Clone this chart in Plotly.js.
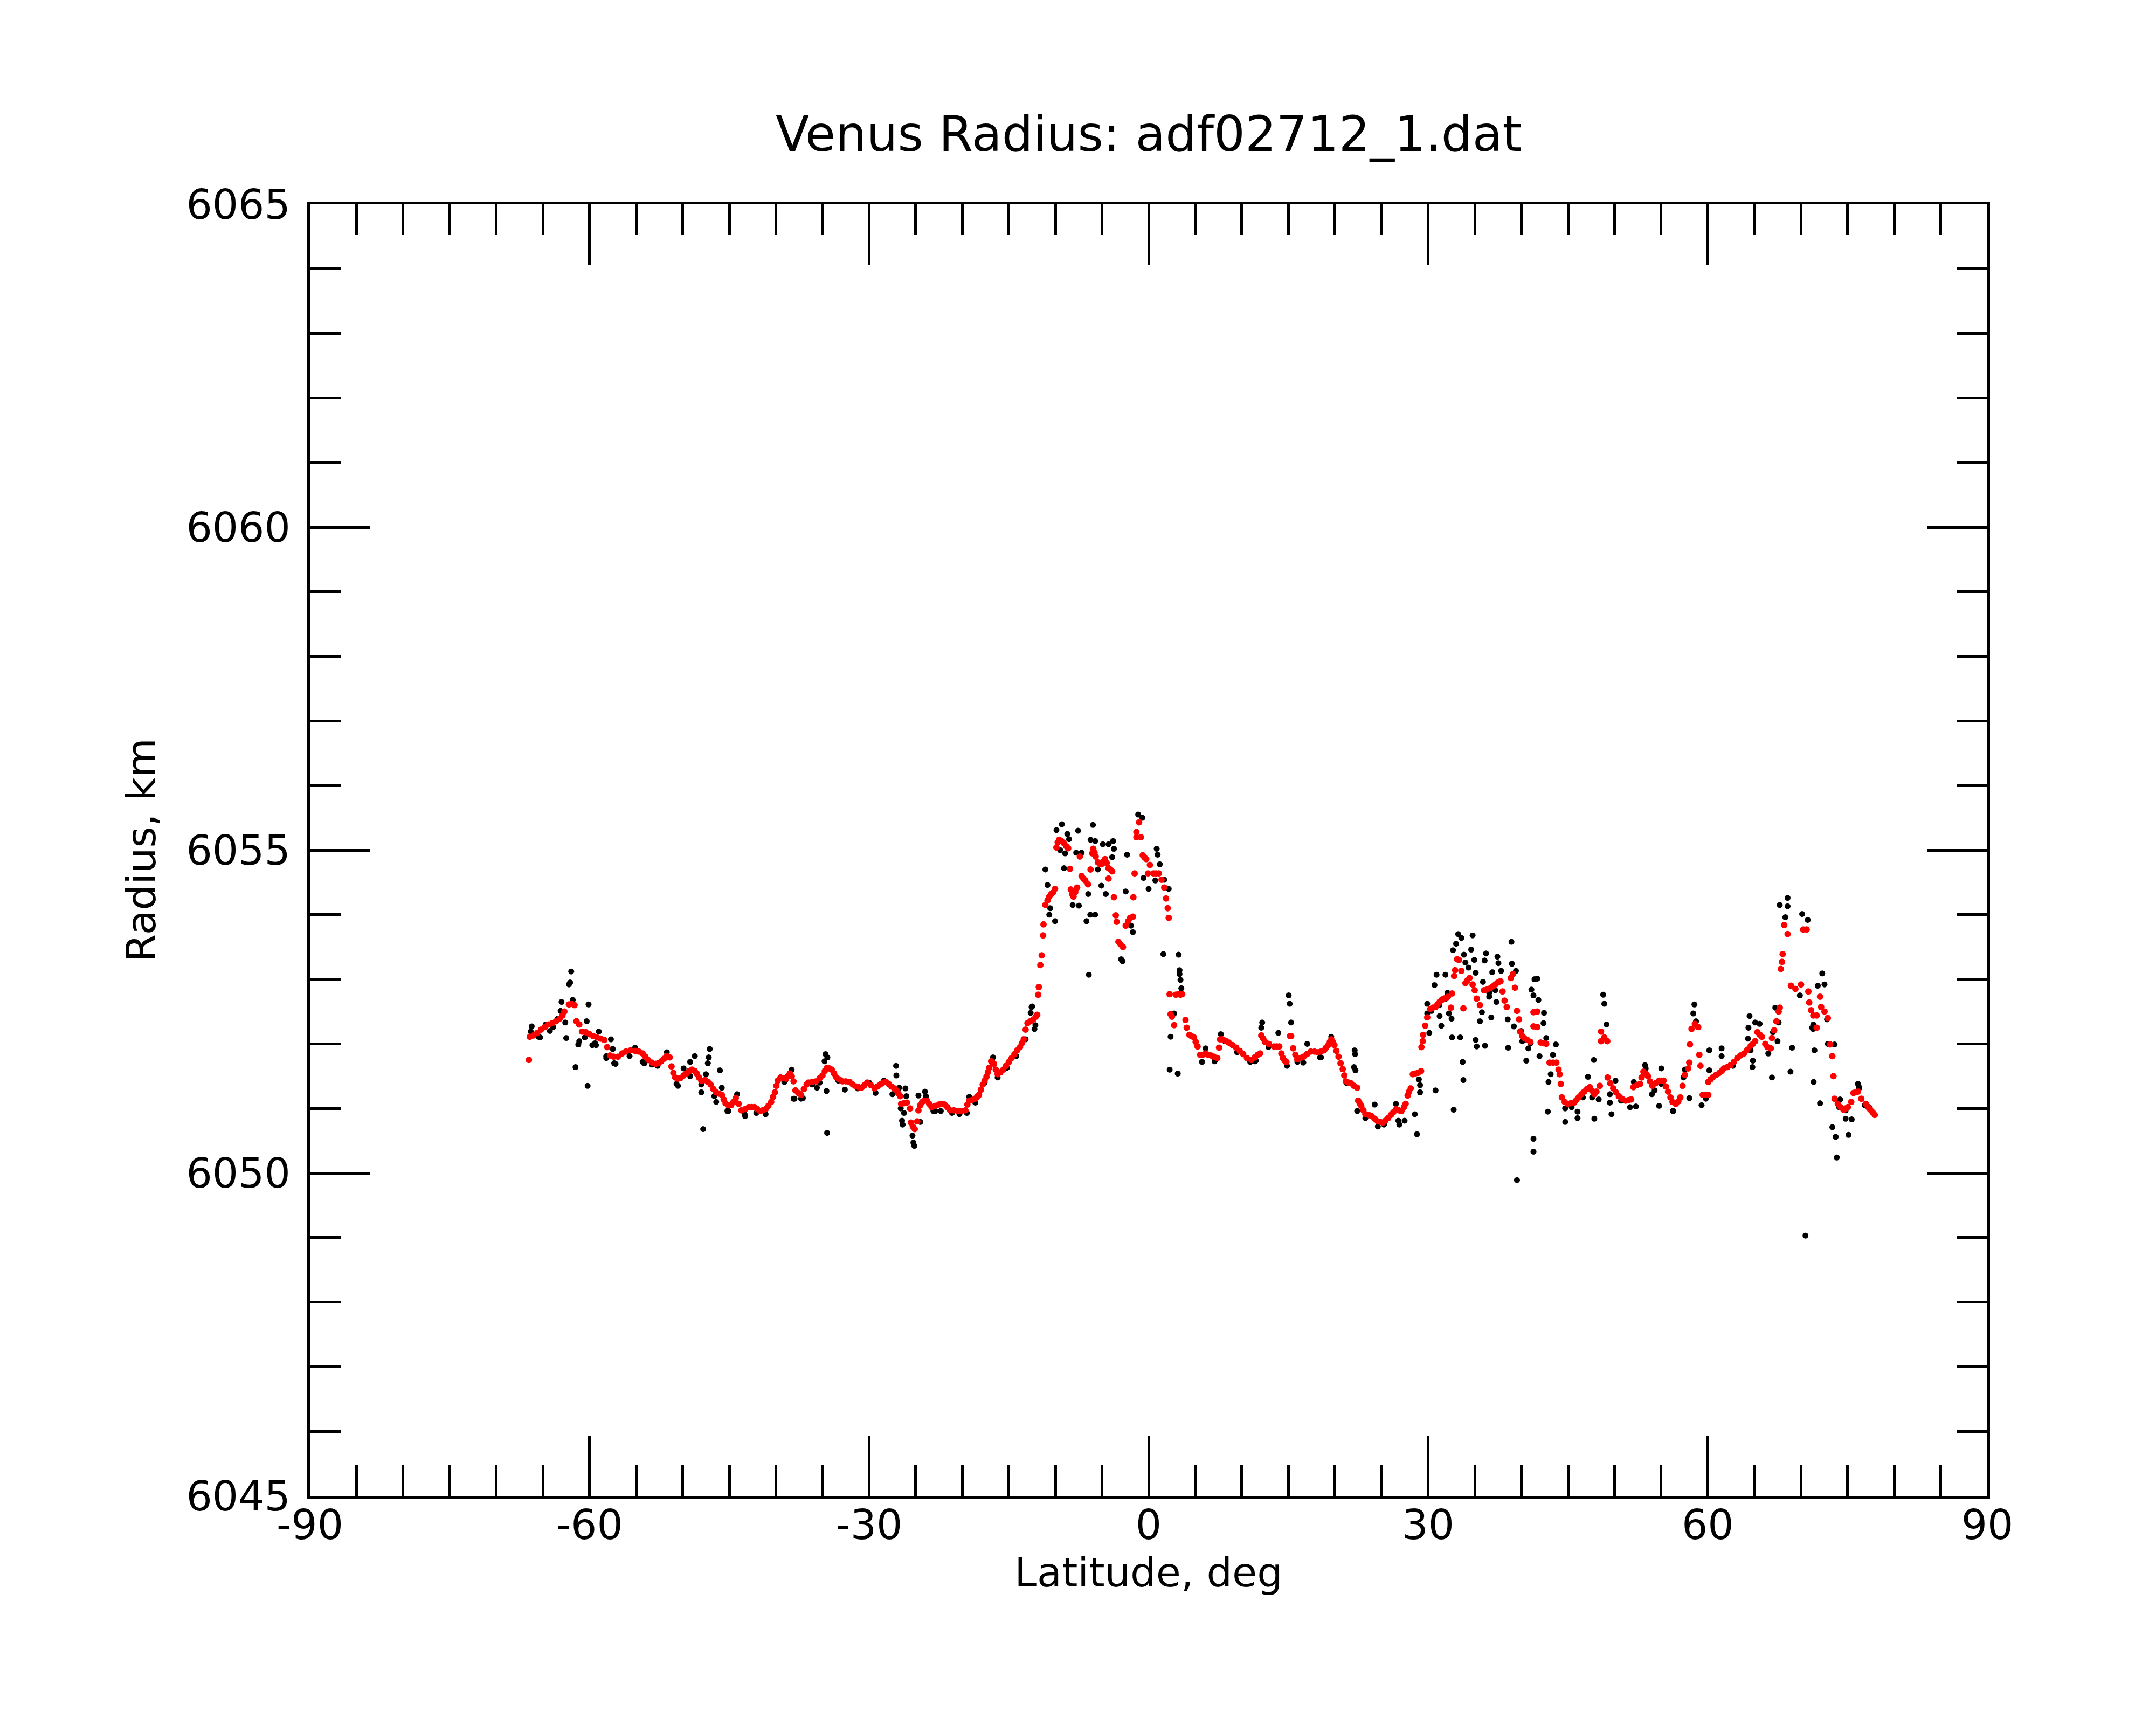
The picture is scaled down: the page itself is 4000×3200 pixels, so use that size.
<!DOCTYPE html>
<html>
<head>
<meta charset="utf-8">
<script src="https://cdn.plot.ly/plotly-3.0.1.min.js"></script>
<style>
  html, body { margin: 0; padding: 0; background: white; }
  #chart { width: 4000px; height: 3200px; }
</style>
</head>
<body>
<div id="chart"></div>
<script>
// Venus radius profile - raw points (black) and smoothed points (red)

// Smoothed radius, [latitude deg, radius km]
const redPoints = [
    [-66.5, 6051.75], [-66.4, 6052.11], [-66.0, 6052.13], [-65.6, 6052.17], [-65.2, 6052.22],
    [-64.8, 6052.26], [-64.4, 6052.30], [-64.0, 6052.32], [-63.6, 6052.35], [-63.2, 6052.39],
    [-62.9, 6052.44], [-62.7, 6052.50], [-62.2, 6052.61], [-61.9, 6052.62], [-61.6, 6052.60],
    [-61.4, 6052.35], [-61.1, 6052.30], [-60.8, 6052.19], [-60.4, 6052.18], [-60.0, 6052.15],
    [-59.6, 6052.12], [-59.2, 6052.10], [-58.8, 6052.08], [-58.4, 6052.06], [-58.1, 6051.95],
    [-57.8, 6051.82], [-57.4, 6051.80], [-56.95, 6051.80], [-56.5, 6051.85], [-56.1, 6051.88],
    [-55.6, 6051.90], [-55.1, 6051.89], [-54.7, 6051.88], [-54.3, 6051.85], [-54.0, 6051.80],
    [-53.7, 6051.75], [-53.3, 6051.71], [-52.9, 6051.69], [-52.6, 6051.70], [-52.3, 6051.73],
    [-52.0, 6051.77], [-51.7, 6051.81], [-51.4, 6051.79], [-51.2, 6051.65], [-51.0, 6051.55],
    [-50.8, 6051.48], [-50.5, 6051.46], [-50.25, 6051.47], [-49.9, 6051.51], [-49.6, 6051.54],
    [-49.3, 6051.58], [-49.0, 6051.60], [-48.7, 6051.58], [-48.5, 6051.54], [-48.25, 6051.48],
    [-48.0, 6051.43], [-47.6, 6051.44], [-47.3, 6051.41], [-47.0, 6051.37], [-46.7, 6051.30],
    [-46.4, 6051.25], [-46.1, 6051.23], [-45.8, 6051.21], [-45.6, 6051.14], [-45.4, 6051.08],
    [-45.1, 6051.05], [-44.8, 6051.05], [-44.55, 6051.10], [-44.3, 6051.16], [-44.0, 6051.07],
    [-43.7, 6050.97], [-43.3, 6050.99], [-42.9, 6051.02], [-42.6, 6051.02], [-42.3, 6051.02],
    [-42.0, 6050.99], [-41.7, 6050.96], [-41.4, 6050.97], [-41.1, 6050.99], [-40.8, 6051.04],
    [-40.5, 6051.10], [-40.3, 6051.18], [-40.1, 6051.25], [-39.95, 6051.35], [-39.8, 6051.43],
    [-39.5, 6051.48], [-39.2, 6051.47], [-38.9, 6051.46], [-38.7, 6051.50], [-38.5, 6051.54],
    [-38.3, 6051.50], [-38.1, 6051.42], [-37.9, 6051.28], [-37.6, 6051.24], [-37.3, 6051.21],
    [-37.0, 6051.30], [-36.7, 6051.37], [-36.5, 6051.40], [-36.1, 6051.41], [-35.7, 6051.42],
    [-35.3, 6051.47], [-35.0, 6051.51], [-34.75, 6051.58], [-34.5, 6051.63], [-34.25, 6051.62],
    [-34.0, 6051.60], [-33.75, 6051.54], [-33.5, 6051.48], [-33.2, 6051.45], [-32.85, 6051.42],
    [-32.5, 6051.42], [-32.1, 6051.41], [-31.75, 6051.37], [-31.4, 6051.34], [-31.1, 6051.33],
    [-30.8, 6051.32], [-30.5, 6051.36], [-30.2, 6051.40], [-29.8, 6051.36], [-29.4, 6051.31],
    [-29.1, 6051.34], [-28.8, 6051.37], [-28.5, 6051.40], [-28.2, 6051.41], [-27.9, 6051.38],
    [-27.6, 6051.34], [-27.3, 6051.31], [-27.06, 6051.28], [-26.85, 6051.23], [-26.66, 6051.19],
    [-26.56, 6051.07], [-26.25, 6051.08], [-25.95, 6051.09], [-25.6, 6051.00], [-25.5, 6050.78],
    [-25.3, 6050.72], [-25.1, 6050.68], [-24.83, 6050.80], [-24.7, 6050.97], [-24.5, 6051.05],
    [-24.3, 6051.10], [-24.05, 6051.12], [-23.8, 6051.12], [-23.55, 6051.07], [-23.3, 6051.02],
    [-22.9, 6051.04], [-22.5, 6051.06], [-22.2, 6051.07], [-21.9, 6051.06], [-21.6, 6051.02],
    [-21.3, 6050.97], [-20.9, 6050.97], [-20.5, 6050.96], [-20.1, 6050.96], [-19.66, 6050.97],
    [-19.45, 6051.06], [-19.25, 6051.12], [-18.95, 6051.13], [-18.64, 6051.15], [-18.4, 6051.18],
    [-18.2, 6051.21], [-18.0, 6051.29], [-17.8, 6051.37], [-17.6, 6051.43], [-17.4, 6051.49],
    [-17.25, 6051.56], [-17.1, 6051.63], [-16.9, 6051.73], [-16.75, 6051.71], [-16.6, 6051.69],
    [-16.4, 6051.60], [-16.2, 6051.53], [-15.9, 6051.56], [-15.6, 6051.60], [-15.3, 6051.66],
    [-15.0, 6051.72], [-14.7, 6051.78], [-14.4, 6051.84], [-14.1, 6051.90], [-13.8, 6051.95],
    [-13.6, 6052.01], [-13.4, 6052.07], [-13.2, 6052.22], [-13.0, 6052.32], [-12.7, 6052.35],
    [-12.36, 6052.38], [-12.1, 6052.42], [-11.95, 6052.45], [-11.85, 6052.76], [-11.78, 6052.88],
    [-11.62, 6053.22], [-11.47, 6053.37], [-11.33, 6053.68], [-11.28, 6053.85], [-11.08, 6054.15],
    [-10.85, 6054.22], [-10.66, 6054.28], [-10.45, 6054.32], [-10.27, 6054.34], [-10.04, 6054.40],
    [-9.89, 6055.04], [-9.75, 6055.12], [-9.6, 6055.16], [-9.35, 6055.14], [-9.12, 6055.11],
    [-8.85, 6055.06], [-8.63, 6055.03], [-8.44, 6054.71], [-8.35, 6054.39], [-8.2, 6054.32],
    [-8.06, 6054.28], [-7.87, 6054.35], [-7.67, 6054.42], [-7.38, 6054.90], [-7.19, 6054.60],
    [-7.0, 6054.56], [-6.8, 6054.53], [-6.51, 6054.47], [-6.23, 6054.70], [-6.05, 6054.95],
    [-5.94, 6055.02], [-5.8, 6054.96], [-5.68, 6054.90], [-5.45, 6054.81], [-5.25, 6054.79],
    [-5.07, 6054.78], [-4.88, 6054.82], [-4.68, 6054.86], [-4.5, 6054.80], [-4.3, 6054.72],
    [-4.3, 6054.56], [-4.1, 6054.70], [-3.91, 6054.67], [-3.72, 6054.27], [-3.52, 6053.99],
    [-3.43, 6053.89], [-3.24, 6053.58], [-3.0, 6053.54], [-2.75, 6053.50], [-2.46, 6053.83],
    [-2.2, 6053.90], [-1.98, 6053.95], [-1.69, 6053.97], [-1.64, 6054.27], [-1.5, 6054.64],
    [-1.31, 6055.20], [-1.31, 6055.28], [-1.02, 6055.43], [-0.83, 6055.20], [-0.63, 6054.92],
    [-0.45, 6054.89], [-0.25, 6054.86], [-0.06, 6054.64], [0.14, 6054.77], [0.52, 6054.64],
    [0.8, 6054.64], [1.1, 6054.64], [1.39, 6054.54], [1.68, 6054.42], [1.87, 6054.25],
    [2.05, 6054.10], [2.16, 6053.95], [2.26, 6052.77], [2.36, 6052.46], [2.5, 6052.42],
    [2.74, 6052.29], [2.93, 6052.76], [3.2, 6052.77], [3.42, 6052.76], [3.6, 6052.77],
    [3.96, 6052.37], [4.09, 6052.25], [4.38, 6052.14], [4.6, 6052.12], [4.86, 6052.10],
    [5.05, 6052.03], [5.25, 6051.96], [5.54, 6051.83], [5.8, 6051.83], [6.11, 6051.85],
    [6.4, 6051.83], [6.69, 6051.82], [7.0, 6051.80], [7.37, 6051.78], [7.56, 6051.94],
    [7.66, 6052.07], [7.9, 6052.07], [8.24, 6052.05], [8.6, 6052.02], [9.01, 6051.98],
    [9.4, 6051.94], [9.78, 6051.89], [10.15, 6051.84], [10.55, 6051.78], [11.03, 6051.75],
    [11.4, 6051.79], [11.71, 6051.83], [11.97, 6051.85], [12.09, 6052.13], [12.3, 6052.08],
    [12.48, 6052.03], [12.9, 6052.00], [13.44, 6051.96], [13.75, 6051.96], [14.02, 6051.96],
    [14.25, 6051.85], [14.41, 6051.78], [14.6, 6051.74], [14.79, 6051.72], [15.18, 6052.12],
    [15.3, 6052.12], [15.51, 6051.93], [15.75, 6051.83], [15.96, 6051.76], [16.3, 6051.78],
    [16.62, 6051.80], [17.0, 6051.84], [17.4, 6051.88], [17.8, 6051.88], [18.17, 6051.87],
    [18.5, 6051.88], [18.83, 6051.90], [19.05, 6051.94], [19.28, 6051.98], [19.45, 6052.03],
    [19.61, 6052.07], [19.8, 6052.02], [19.94, 6051.98], [20.15, 6051.89], [20.38, 6051.80],
    [20.6, 6051.70], [20.83, 6051.61], [21.0, 6051.51], [21.16, 6051.42], [21.45, 6051.40],
    [21.71, 6051.39], [22.05, 6051.35], [22.38, 6051.32], [22.49, 6051.12], [22.65, 6051.08],
    [22.82, 6051.04], [23.05, 6050.97], [23.26, 6050.91], [23.6, 6050.90], [23.93, 6050.88],
    [24.25, 6050.84], [24.59, 6050.80], [24.85, 6050.79], [25.14, 6050.78], [25.4, 6050.81],
    [25.7, 6050.85], [26.0, 6050.90], [26.25, 6050.94], [26.58, 6050.99], [26.85, 6050.97],
    [27.13, 6050.96], [27.4, 6051.02], [27.58, 6051.07], [27.8, 6051.20], [27.95, 6051.26],
    [28.13, 6051.31], [28.35, 6051.53], [28.6, 6051.54], [28.9, 6051.55], [29.24, 6051.58],
    [29.28, 6051.95], [29.42, 6052.04], [29.46, 6052.14], [29.68, 6052.28], [29.9, 6052.41],
    [30.23, 6052.54], [30.5, 6052.56], [30.79, 6052.57], [31.0, 6052.61], [31.23, 6052.65],
    [31.45, 6052.68], [31.67, 6052.70], [31.9, 6052.71], [32.12, 6052.73], [32.45, 6052.56],
    [32.56, 6052.78], [32.78, 6053.05], [32.89, 6053.14], [33.11, 6053.31], [33.3, 6053.30],
    [33.56, 6053.13], [33.78, 6052.55], [34.0, 6052.94], [34.2, 6052.98], [34.44, 6053.02],
    [34.77, 6052.92], [34.99, 6052.83], [35.21, 6052.70], [35.55, 6052.60], [35.99, 6052.83],
    [36.3, 6052.84], [36.66, 6052.86], [36.95, 6052.89], [37.21, 6052.92], [37.5, 6052.95],
    [37.76, 6052.97], [37.98, 6052.81], [38.2, 6052.67], [38.43, 6052.57], [38.87, 6053.02],
    [39.09, 6053.08], [39.31, 6052.87], [39.53, 6052.51], [39.75, 6052.38], [39.86, 6052.19],
    [40.1, 6052.12], [40.31, 6052.09], [40.65, 6052.06], [40.97, 6052.03], [41.3, 6052.27],
    [41.3, 6052.49], [41.71, 6052.50], [41.71, 6052.26], [42.07, 6052.02], [42.4, 6052.01],
    [42.67, 6052.00], [43.03, 6051.71], [43.4, 6051.71], [43.75, 6051.71], [43.99, 6051.60],
    [44.11, 6051.53], [44.23, 6051.38], [44.35, 6051.17], [44.65, 6051.10], [44.95, 6051.07],
    [45.3, 6051.08], [45.67, 6051.09], [45.9, 6051.13], [46.15, 6051.17], [46.45, 6051.22],
    [46.75, 6051.26], [47.05, 6051.30], [47.35, 6051.33], [47.6, 6051.27], [47.83, 6051.22],
    [48.06, 6051.26], [48.42, 6051.35], [48.55, 6052.04], [48.55, 6052.19], [48.9, 6052.10],
    [49.22, 6052.04], [49.26, 6051.48], [49.55, 6051.39], [49.86, 6051.31], [50.15, 6051.25],
    [50.46, 6051.19], [50.8, 6051.15], [51.18, 6051.12], [51.5, 6051.13], [51.78, 6051.14],
    [52.02, 6051.33], [52.4, 6051.36], [52.74, 6051.38], [52.9, 6051.48], [53.1, 6051.57],
    [53.35, 6051.54], [53.58, 6051.50], [53.8, 6051.42], [54.06, 6051.35], [54.4, 6051.39],
    [54.78, 6051.43], [55.02, 6051.43], [55.26, 6051.43], [55.5, 6051.34], [55.74, 6051.26],
    [56.0, 6051.17], [56.22, 6051.10], [56.58, 6051.07], [56.85, 6051.11], [57.06, 6051.17],
    [57.3, 6051.35], [57.54, 6051.52], [57.9, 6051.62], [58.02, 6051.71], [58.09, 6051.99],
    [58.26, 6052.23], [58.62, 6052.31], [58.98, 6052.26], [59.1, 6051.83], [59.22, 6051.66],
    [59.46, 6051.21], [59.75, 6051.21], [60.06, 6051.21], [60.06, 6051.41], [60.3, 6051.45],
    [60.53, 6051.48], [60.9, 6051.52], [61.25, 6051.55], [61.5, 6051.58], [61.73, 6051.62],
    [62.1, 6051.64], [62.45, 6051.67], [62.8, 6051.72], [63.17, 6051.78], [63.5, 6051.82],
    [63.89, 6051.85], [64.25, 6051.91], [64.61, 6051.97], [64.85, 6052.00], [65.09, 6052.04],
    [65.33, 6052.18], [65.6, 6052.14], [65.81, 6052.11], [66.17, 6052.00], [66.41, 6051.95],
    [66.77, 6051.93], [66.89, 6052.09], [67.13, 6052.21], [67.37, 6052.35], [67.61, 6052.50],
    [67.73, 6052.56], [67.85, 6053.16], [67.97, 6053.27], [68.04, 6053.39], [68.21, 6053.84],
    [68.57, 6053.70], [68.93, 6052.90], [69.41, 6052.85], [70.01, 6052.92], [70.25, 6053.77],
    [70.61, 6053.77], [70.8, 6052.81], [70.89, 6052.64], [71.09, 6052.52], [71.33, 6052.44],
    [71.69, 6052.44], [71.69, 6052.25], [72.05, 6052.73], [72.17, 6052.57], [72.53, 6052.50],
    [72.89, 6052.40], [73.13, 6051.99], [73.37, 6051.81], [73.49, 6051.50], [73.61, 6051.15],
    [73.96, 6051.07], [74.25, 6051.02], [74.56, 6050.98], [74.8, 6051.00], [75.04, 6051.02],
    [75.4, 6051.10], [75.64, 6051.24], [75.9, 6051.25], [76.12, 6051.26], [76.48, 6051.15],
    [76.96, 6051.07], [77.2, 6051.02], [77.44, 6050.98], [77.7, 6050.94], [77.92, 6050.90]
];

// Raw radius samples, [latitude deg, radius km]
const blackPoints = [
    // southern plains
    [-66.3, 6052.19], [-66.2, 6052.27], [-65.5, 6052.11], [-65.3, 6052.10], [-64.7, 6052.30],
    [-64.25, 6052.20], [-63.9, 6052.26], [-63.4, 6052.39], [-63.1, 6052.51], [-63.0, 6052.65],
    [-62.6, 6052.33], [-62.5, 6052.09], [-62.2, 6052.92], [-62.08, 6052.95], [-61.96, 6053.12],
    [-61.8, 6052.68], [-61.5, 6051.64], [-61.2, 6051.99], [-61.1, 6052.04], [-60.5, 6052.10],
    [-60.3, 6052.35], [-60.2, 6051.35], [-60.1, 6052.61], [-59.7, 6051.98], [-59.4, 6052.01],
    [-59.3, 6051.98], [-59.0, 6052.19], [-58.2, 6051.78], [-58.2, 6051.81], [-57.7, 6052.07],
    [-57.5, 6051.92], [-57.35, 6051.70], [-57.2, 6051.69], [-55.7, 6051.81], [-55.1, 6051.94],
    [-54.3, 6051.72], [-54.1, 6051.70], [-53.3, 6051.68], [-52.7, 6051.66], [-51.7, 6051.87],
    [-50.66, 6051.38], [-50.5, 6051.35], [-49.9, 6051.62], [-49.2, 6051.72], [-49.2, 6051.50],
    [-48.7, 6051.81], [-48.0, 6051.25], [-48.0, 6051.37], [-47.8, 6050.68], [-47.5, 6051.53],
    [-47.3, 6051.70], [-47.2, 6051.79], [-47.1, 6051.92], [-46.6, 6051.19], [-46.4, 6051.10],
    [-46.0, 6051.59], [-45.8, 6051.32], [-45.2, 6050.96], [-45.1, 6050.96], [-44.16, 6051.22],
    [-43.35, 6050.91], [-43.3, 6050.88], [-42.1, 6050.93], [-41.1, 6050.91], [-39.1, 6051.41],
    [-39.0, 6051.43], [-38.3, 6051.60], [-38.1, 6051.15], [-38.0, 6051.15], [-37.3, 6051.15],
    [-37.1, 6051.16], [-36.1, 6051.37], [-35.6, 6051.32], [-35.3, 6051.40], [-34.78, 6051.73],
    [-34.67, 6051.84], [-34.57, 6051.27], [-34.5, 6050.62], [-34.47, 6051.79], [-33.3, 6051.43],
    [-32.6, 6051.29], [-31.2, 6051.31], [-30.0, 6051.40], [-29.3, 6051.24], [-28.4, 6051.43],
    [-27.5, 6051.22], [-27.1, 6051.66], [-27.07, 6051.51], [-26.76, 6051.32], [-26.6, 6051.00],
    [-26.46, 6050.81], [-26.4, 6050.75], [-26.25, 6050.93], [-26.1, 6051.31], [-26.0, 6051.19],
    [-25.34, 6050.58], [-25.24, 6050.47], [-25.14, 6050.42], [-24.7, 6051.20], [-24.5, 6050.79],
    [-24.0, 6051.26], [-23.9, 6051.19], [-23.1, 6050.96], [-22.9, 6050.96], [-22.3, 6050.96],
    [-21.1, 6050.93], [-20.3, 6050.91], [-19.5, 6050.93], [-19.25, 6051.18], [-18.6, 6051.09],
    [-17.6, 6051.40], [-16.7, 6051.79], [-16.2, 6051.48], [-15.2, 6051.63], [-14.2, 6051.81],
    [-13.2, 6052.07], [-12.66, 6052.48], [-12.56, 6052.57], [-12.49, 6052.58], [-12.25, 6052.23],
    [-12.15, 6052.29],
    // equatorial highland
    [-11.08, 6054.70], [-10.85, 6054.46], [-10.66, 6054.00], [-10.56, 6054.10], [-10.04, 6053.90],
    [-9.89, 6055.31], [-9.5, 6055.00], [-9.31, 6055.40], [-9.08, 6054.72], [-8.96, 6054.95],
    [-8.73, 6055.25], [-8.54, 6055.17], [-8.15, 6054.15], [-7.77, 6054.96], [-7.57, 6055.30],
    [-7.48, 6054.14], [-7.19, 6054.96], [-6.67, 6053.90], [-6.48, 6054.32], [-6.42, 6053.07],
    [-6.26, 6054.00], [-6.23, 6055.16], [-5.97, 6055.39], [-5.74, 6055.14], [-5.74, 6054.00],
    [-5.45, 6054.70], [-5.07, 6054.45], [-4.91, 6055.09], [-4.59, 6054.32], [-4.3, 6055.09],
    [-3.91, 6054.89], [-3.81, 6055.14], [-3.72, 6055.02], [-2.95, 6053.31], [-2.79, 6053.28],
    [-2.46, 6054.36], [-2.31, 6054.93], [-1.89, 6053.83], [-1.69, 6053.73], [-1.12, 6055.55],
    [-0.67, 6055.50], [-0.54, 6054.57], [-0.0, 6054.40], [0.72, 6054.53], [0.87, 6055.02],
    [0.97, 6054.93], [1.2, 6054.78], [1.58, 6053.39], [1.68, 6054.54], [2.16, 6054.40],
    [2.26, 6051.60], [2.36, 6052.11], [2.74, 6052.47], [3.13, 6051.54], [3.22, 6053.38],
    [3.32, 6053.14], [3.32, 6053.08], [3.42, 6052.99], [3.51, 6052.86],
    // plains north of the highland
    [5.73, 6051.72], [6.11, 6051.93], [7.08, 6051.73], [7.1, 6051.74], [7.75, 6052.15],
    [8.2, 6052.04], [9.5, 6051.87], [10.9, 6051.72], [11.42, 6051.73], [11.5, 6051.74],
    [12.09, 6052.25], [12.19, 6052.33], [12.86, 6051.95], [13.92, 6052.17], [14.85, 6051.66],
    [15.03, 6052.75], [15.14, 6052.62], [15.29, 6052.33], [15.96, 6051.72], [16.6, 6051.71],
    [17.02, 6052.00], [18.4, 6051.79], [18.5, 6051.79], [19.6, 6052.11], [21.27, 6051.39],
    [22.04, 6051.64], [22.11, 6051.90], [22.16, 6051.84], [22.2, 6051.59], [22.38, 6050.96],
    [23.26, 6050.85], [24.26, 6051.06], [24.6, 6050.72], [25.26, 6050.75], [26.54, 6051.07],
    [26.8, 6050.81], [26.91, 6050.75], [27.47, 6050.81], [28.57, 6050.91], [28.8, 6050.60],
    [29.0, 6051.45], [29.13, 6051.36], [29.13, 6051.25],
    // northern rise
    [29.9, 6052.62], [29.9, 6052.47], [30.12, 6052.17], [30.35, 6052.51], [30.68, 6052.91],
    [30.79, 6051.28], [30.9, 6053.07], [31.2, 6052.60], [31.23, 6052.43], [31.41, 6052.28],
    [31.85, 6053.07], [31.9, 6052.70], [32.07, 6052.79], [32.23, 6052.47], [32.51, 6052.39],
    [32.56, 6052.10], [32.67, 6053.45], [32.74, 6050.98], [33.0, 6053.55], [33.22, 6053.70],
    [33.44, 6052.10], [33.56, 6053.64], [33.7, 6051.72], [33.78, 6051.44], [33.84, 6053.38],
    [34.0, 6053.26], [34.33, 6053.18], [34.62, 6053.46], [34.77, 6053.68], [34.95, 6053.30],
    [35.1, 6053.10], [35.1, 6052.06], [35.21, 6051.96], [35.55, 6052.35], [35.77, 6052.49],
    [35.88, 6052.96], [36.06, 6053.29], [36.1, 6051.97], [36.21, 6053.40], [36.55, 6052.73],
    [36.55, 6052.79], [36.77, 6052.41], [36.88, 6053.11], [37.2, 6052.83], [37.32, 6052.65],
    [37.43, 6053.35], [37.54, 6053.25], [37.83, 6053.13], [38.54, 6052.38], [38.58, 6051.94],
    [38.94, 6053.58], [38.98, 6053.24], [39.2, 6052.27], [39.42, 6053.13], [39.53, 6049.89],
    [39.97, 6052.20], [40.1, 6052.04], [40.53, 6051.74], [40.75, 6051.93], [41.0, 6052.01],
    [41.08, 6052.84], [41.3, 6052.75], [41.3, 6050.53], [41.3, 6050.33], [41.41, 6053.00],
    [41.71, 6053.01], [41.83, 6052.68], [41.95, 6051.81], [42.38, 6052.32], [42.43, 6052.48],
    [42.67, 6052.09], [42.84, 6050.95], [42.91, 6051.41], [43.15, 6051.53], [43.39, 6051.83],
    [43.7, 6051.99],
    // northern plains
    [44.7, 6051.00], [44.71, 6050.79], [45.4, 6051.02], [46.03, 6050.95], [46.03, 6050.85],
    [46.6, 6051.17], [47.15, 6051.49], [47.6, 6051.17], [47.78, 6051.75], [47.83, 6050.84],
    [48.3, 6051.14], [48.78, 6052.76], [48.9, 6052.62], [49.14, 6052.30], [49.5, 6051.09],
    [49.5, 6051.22], [49.67, 6050.91], [50.1, 6051.43], [50.7, 6051.12], [51.66, 6051.02],
    [52.07, 6051.41], [52.3, 6051.03], [53.27, 6051.67], [53.34, 6051.62], [54.01, 6051.22],
    [54.3, 6051.28], [54.78, 6051.04], [55.0, 6051.38], [55.02, 6051.62], [56.27, 6050.96],
    [56.3, 6050.96], [57.4, 6051.48], [57.54, 6051.60], [58.02, 6051.16], [58.45, 6052.47],
    [58.57, 6052.61], [58.74, 6052.35], [59.34, 6051.05], [59.8, 6051.15], [60.17, 6051.90],
    [60.17, 6051.59], [60.3, 6051.45], [61.49, 6051.93], [61.49, 6051.81], [62.7, 6051.66],
    [64.32, 6052.08], [64.37, 6052.25], [64.49, 6052.43], [64.6, 6051.90], [64.8, 6051.64],
    [64.85, 6051.74], [65.09, 6052.33], [65.57, 6052.31], [66.5, 6051.85], [66.89, 6051.48],
    [67.0, 6052.18], [67.25, 6052.56], [67.49, 6052.04], [67.61, 6052.33],
    // northern peak and pole side
    [67.73, 6054.15], [68.33, 6053.96], [68.57, 6054.26], [68.57, 6054.13], [68.88, 6051.57],
    [69.05, 6051.94], [69.89, 6052.75], [70.13, 6054.01], [70.49, 6049.03], [70.73, 6053.92],
    [71.21, 6052.25], [71.3, 6052.23], [71.33, 6052.30], [71.37, 6051.41], [71.45, 6051.90],
    [71.81, 6052.90], [72.05, 6051.08], [72.29, 6053.09], [72.53, 6052.92], [72.8, 6052.38],
    [72.89, 6052.00], [73.37, 6050.71], [73.61, 6051.99], [73.73, 6050.56], [73.85, 6050.24],
    [74.1, 6051.02], [74.2, 6051.14], [74.8, 6050.84], [74.8, 6050.97], [75.11, 6050.59],
    [75.45, 6050.83], [76.12, 6051.38], [76.24, 6051.33], [76.24, 6051.31], [76.84, 6051.05],
    [77.3, 6051.02], [77.32, 6051.02]
];

const titleText = 'Venus Radius: adf02712_1.dat';
const xTitleText = 'Latitude, deg';
const yTitleText = 'Radius, km';
const xRange = [-90, 90];
const yRange = [6045, 6065];
const xTickVals = [-90, -60, -30, 0, 30, 60, 90];
const xTickText = ['-90', '-60', '-30', '0', '30', '60', '90'];

const rawTrace = {
    x: blackPoints.map(p => p[0]),
    y: blackPoints.map(p => p[1]),
    type: 'scatter',
    mode: 'markers',
    marker: {color: '#000000', size: 11},
    hoverinfo: 'skip'
};

const smoothTrace = {
    x: redPoints.map(p => p[0]),
    y: redPoints.map(p => p[1]),
    type: 'scatter',
    mode: 'markers',
    marker: {color: '#ff0000', size: 12},
    hoverinfo: 'skip'
};

const axisCommon = {
    showgrid: false,
    zeroline: false,
    showline: true,
    linecolor: '#000000',
    linewidth: 5,
    mirror: 'ticks',
    ticks: 'inside',
    tickcolor: '#000000',
    tickwidth: 5,
    ticklen: 112,
    tickfont: {family: 'DejaVu Sans', size: 76, color: '#000000'}
};

const layout = {
    width: 4000,
    height: 3200,
    margin: {l: 575, r: 313, t: 379, b: 425},
    paper_bgcolor: 'white',
    plot_bgcolor: 'white',
    showlegend: false,
    font: {family: 'DejaVu Sans', color: '#000000'},
    title: {
        text: titleText,
        font: {family: 'DejaVu Sans', size: 91, color: '#000000'},
        x: 0.5,
        xref: 'paper',
        xanchor: 'center',
        y: 1 - 248 / 3200,
        yref: 'container',
        yanchor: 'middle'
    },
    xaxis: Object.assign({}, axisCommon, {
        range: xRange,
        tickmode: 'array',
        tickvals: xTickVals,
        ticktext: xTickText,
        ticklabelstandoff: -16,
        minor: {tickmode: 'linear', tick0: -90, dtick: 5, ticks: 'inside', ticklen: 57, tickwidth: 5, tickcolor: '#000000'},
        title: {text: xTitleText, font: {family: 'DejaVu Sans', size: 75, color: '#000000'}, standoff: 12}
    }),
    yaxis: Object.assign({}, axisCommon, {
        range: yRange,
        tickmode: 'linear',
        tick0: 6045,
        dtick: 5,
        ticklabelstandoff: 16,
        minor: {dtick: 1, ticks: 'inside', ticklen: 57, tickwidth: 5, tickcolor: '#000000'},
        title: {text: yTitleText, font: {family: 'DejaVu Sans', size: 75, color: '#000000'}, standoff: 34}
    })
};

Plotly.newPlot('chart', [rawTrace, smoothTrace], layout, {staticPlot: true});
</script>
</body>
</html>
